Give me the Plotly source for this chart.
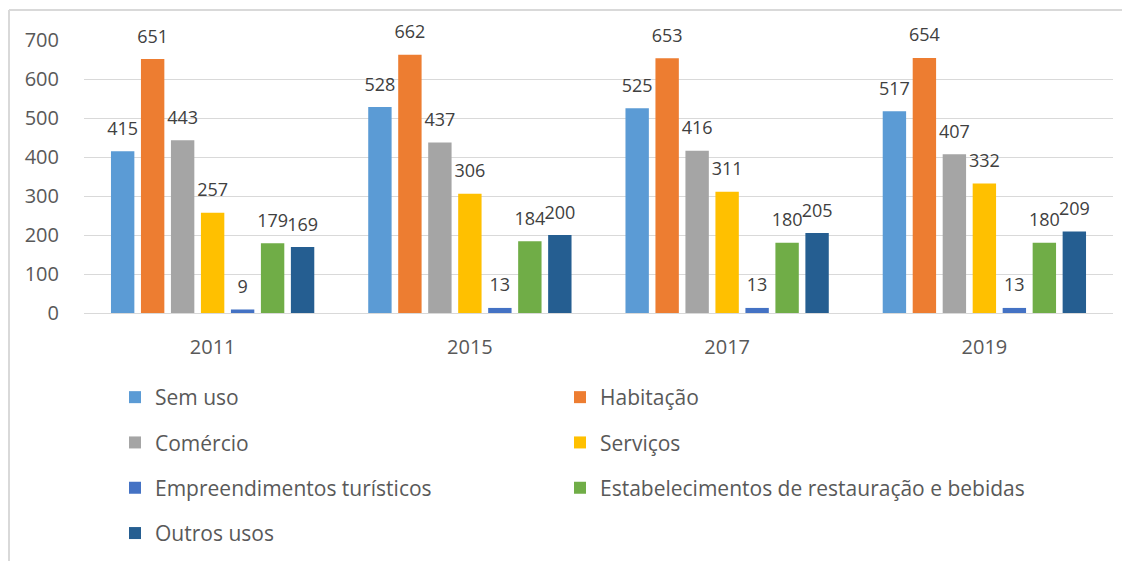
import plotly.graph_objects as go

years = ["2011", "2015", "2017", "2019"]
series_names = [
    "Sem uso",
    "Habitação",
    "Comércio",
    "Serviços",
    "Empreendimentos turísticos",
    "Estabelecimentos de restauração e bebidas",
    "Outros usos",
]
sem_uso = [415, 528, 525, 517]
habitacao = [651, 662, 653, 654]
comercio = [443, 437, 416, 407]
servicos = [257, 306, 311, 332]
empreendimentos = [9, 13, 13, 13]
restauracao = [179, 184, 180, 180]
outros = [169, 200, 205, 209]

values = [sem_uso, habitacao, comercio, servicos, empreendimentos, restauracao, outros]
colors = ["#5B9BD5", "#ED7D31", "#A5A5A5", "#FFC000", "#4472C4", "#70AD47", "#255E91"]
legend_ref = ["legend", "legend2", "legend", "legend2", "legend", "legend2", "legend"]

FONT = "Open Sans"
BARGAP = 0.184

fig = go.Figure()
for i, (name, vals, col, lg) in enumerate(zip(series_names, values, colors, legend_ref)):
    fig.add_trace(go.Bar(
        x=years, y=vals, name=name,
        marker=dict(color=col, line=dict(width=0)),
        offsetgroup=f"g{i}",
        legend=lg,
        legendgroup=name,
    ))
for i, vals in enumerate(values):
    fig.add_trace(go.Scatter(
        x=years, y=vals,
        mode="markers+text",
        text=[str(v) for v in vals],
        textposition="top center",
        textfont=dict(family=FONT, size=18, color="#404040"),
        marker=dict(size=17.6, opacity=0, color="white"),
        offsetgroup=f"g{i}",
        cliponaxis=False,
        showlegend=False,
        hoverinfo="skip",
    ))

# page has an 8px body margin; work in page pixels and convert
OFF = 8
W, H = 1130, 561
PL, PR, PT, PB = 84, 1113, 40, 313  # plot area in page pixels
L = PL - OFF
T = PT - OFF
R = W - (PR - OFF)
B = H - (PB - OFF)
pw = W - L - R
ph = H - T - B

def px_x(p):
    return (p - OFF - L) / pw

def px_y(p):
    return (H - B - (p - OFF)) / ph

legend_common = dict(
    orientation="v",
    font=dict(family=FONT, size=21, color="#595959"),
    bgcolor="rgba(0,0,0,0)",
    tracegroupgap=15,
    traceorder="grouped",
    yanchor="top",
    xanchor="left",
    itemclick=False,
)

fig.update_layout(
    width=W, height=H,
    margin=dict(l=L, r=R, t=T, b=B, autoexpand=False),
    paper_bgcolor="white",
    plot_bgcolor="white",
    barmode="group",
    bargap=BARGAP,
    bargroupgap=0.22,
    scattermode="group",
    scattergap=BARGAP,
    showlegend=True,
    legend=dict(x=px_x(115), y=px_y(377), **legend_common),
    legend2=dict(x=px_x(560), y=px_y(377), **legend_common),
    font=dict(family=FONT, color="#595959"),
    xaxis=dict(
        showgrid=False,
        showline=False,
        ticks="outside", ticklen=16, tickcolor="rgba(0,0,0,0)",
        tickfont=dict(family=FONT, size=20, color="#595959"),
    ),
    yaxis=dict(
        range=[0, 700],
        dtick=100,
        showgrid=True, gridcolor="#D9D9D9", gridwidth=1,
        zeroline=True, zerolinecolor="#D9D9D9", zerolinewidth=1,
        showline=False,
        ticks="outside", ticklen=20, tickcolor="rgba(0,0,0,0)",
        tickfont=dict(family=FONT, size=20, color="#595959"),
    ),
    shapes=[
        dict(type="line", xref="paper", yref="paper",
             x0=px_x(9), x1=px_x(1140), y0=px_y(10), y1=px_y(10),
             line=dict(color="#D9D9D9", width=2)),
        dict(type="line", xref="paper", yref="paper",
             x0=px_x(9), x1=px_x(9), y0=px_y(10), y1=px_y(580),
             line=dict(color="#D9D9D9", width=2)),
    ],
)

fig.write_html("out.html")
